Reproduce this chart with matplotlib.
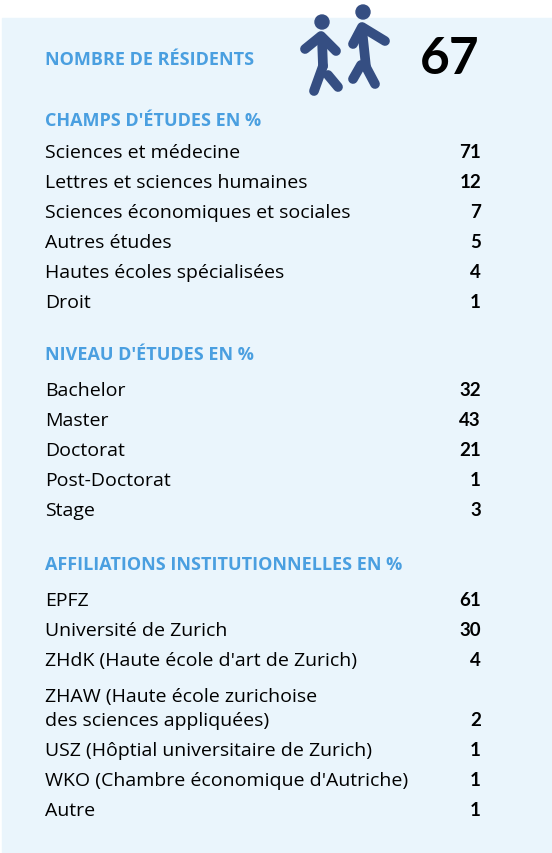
import matplotlib
matplotlib.use("Agg")
import matplotlib.pyplot as plt
from matplotlib.patches import Rectangle, Circle

total_residents = 67
champs_labels = ["Sciences et médecine", "Lettres et sciences humaines", "Sciences économiques et sociales",
                 "Autres études", "Hautes écoles spécialisées", "Droit"]
champs_values = [71, 12, 7, 5, 4, 1]
niveau_labels = ["Bachelor", "Master", "Doctorat", "Post-Doctorat", "Stage"]
niveau_values = [32, 43, 21, 1, 3]
affil_labels = ["EPFZ", "Université de Zurich", "ZHdK (Haute école d'art de Zurich)",
                "ZHAW (Haute école zurichoise\ndes sciences appliquées)",
                "USZ (Hôptial universitaire de Zurich)", "WKO (Chambre économique d'Autriche)", "Autre"]
affil_values = [61, 30, 4, 2, 1, 1, 1]

BLUE = "#4A9FE0"
ICON = "#354E82"
FONT = ["Open Sans", "DejaVu Sans"]
NUMFONT = ["Lato", "DejaVu Sans"]

fig = plt.figure(figsize=(5.52, 8.54), dpi=100)
ax = fig.add_axes([0, 0, 1, 1])
ax.set_xlim(0, 552); ax.set_ylim(854, 0); ax.axis("off")
ax.add_patch(Rectangle((2, 19), 550, 835, color="#EAF5FC", zorder=0))

def head(t, y):
    ax.text(45, y, t, color=BLUE, fontsize=13, fontweight="bold", va="center", family=FONT)

def rows(labels, values, y0, step=30):
    y = y0
    for lab, v in zip(labels, values):
        n = lab.count("\n")
        y += n * step
        ax.text(45, y, lab, fontsize=14, va="baseline", family=FONT, linespacing=1.45)
        ax.text(481, y, str(v), fontsize=13.5, fontweight="bold", ha="right", va="baseline", family=NUMFONT)
        y += step

head("NOMBRE DE RÉSIDENTS", 60)
ax.text(420, 60, str(total_residents), fontsize=37, fontweight="bold", va="center", family=NUMFONT)

# walkers
kw = dict(color=ICON, lw=7, solid_capstyle="round", solid_joinstyle="round")
ax.add_patch(Circle((322, 23), 7, color=ICON))
ax.plot([322, 323], [40, 67], **kw); ax.plot([305, 321, 336], [50, 37, 52], **kw)
ax.plot([323, 314], [67, 92], **kw); ax.plot([328, 338], [76, 88], **kw)
ax.add_patch(Circle((363, 13), 7, color=ICON))
ax.plot([362, 366], [30, 68], **kw)
ax.plot([353, 362, 385], [45, 28, 42], **kw)
ax.plot([366, 375], [68, 85], **kw); ax.plot([361, 353], [66, 80], **kw)

head("CHAMPS D'ÉTUDES EN %", 121)
rows(champs_labels, champs_values, 158)
head("NIVEAU D'ÉTUDES EN %", 355)
rows(niveau_labels, niveau_values, 396)
head("AFFILIATIONS INSTITUTIONNELLES EN %", 565)
rows(affil_labels, affil_values, 606)

fig.savefig("out.png", dpi=100)
